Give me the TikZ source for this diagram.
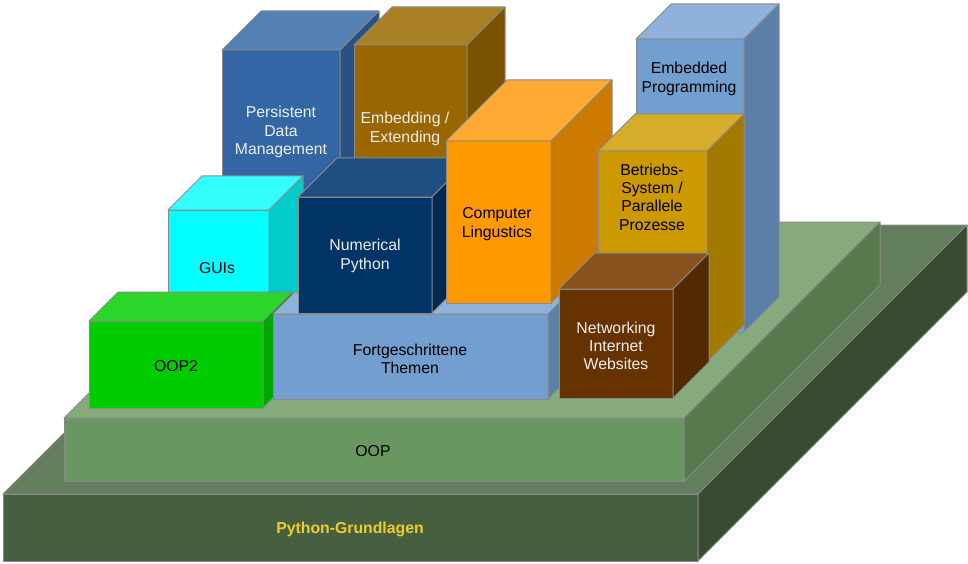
\documentclass[tikz,border=0pt]{standalone}
\usepackage{fontspec}
\setmainfont{Liberation Sans}

% colours of the blocks: F = front, T = top, S = side
\definecolor{edgegray}{HTML}{8A8A8A}
\definecolor{grundF}{HTML}{465F40}
\definecolor{grundT}{HTML}{637E5C}
\definecolor{grundS}{HTML}{384C32}
\definecolor{oopF}{HTML}{6A9662}
\definecolor{oopT}{HTML}{85AA7B}
\definecolor{oopS}{HTML}{567A4B}
\definecolor{ooptwoF}{HTML}{00CC00}
\definecolor{ooptwoT}{HTML}{2AD62A}
\definecolor{ooptwoS}{HTML}{00A800}
\definecolor{fortF}{HTML}{729FCF}
\definecolor{fortT}{HTML}{8DB2DC}
\definecolor{fortS}{HTML}{5C80A7}
\definecolor{guisF}{HTML}{00FFFF}
\definecolor{guisT}{HTML}{33FFFF}
\definecolor{guisS}{HTML}{00CCCC}
\definecolor{numpyF}{HTML}{003366}
\definecolor{numpyT}{HTML}{1E4F83}
\definecolor{numpyS}{HTML}{002952}
\definecolor{compF}{HTML}{FF9900}
\definecolor{compT}{HTML}{FFAA33}
\definecolor{compS}{HTML}{CC7A00}
\definecolor{persistF}{HTML}{3465A4}
\definecolor{persistT}{HTML}{5580B6}
\definecolor{persistS}{HTML}{2A5184}
\definecolor{embedF}{HTML}{996600}
\definecolor{embedT}{HTML}{AA8025}
\definecolor{embedS}{HTML}{7A5200}
\definecolor{embprogF}{HTML}{729FCF}
\definecolor{embprogT}{HTML}{8DB1DB}
\definecolor{embprogS}{HTML}{5B7FA6}
\definecolor{betriebF}{HTML}{CC9900}
\definecolor{betriebT}{HTML}{D6AD2B}
\definecolor{betriebS}{HTML}{A37A00}
\definecolor{netF}{HTML}{663300}
\definecolor{netT}{HTML}{86521D}
\definecolor{netS}{HTML}{522900}
\definecolor{hell}{HTML}{EEEEEE}
\definecolor{gelb}{HTML}{F2CC2A}

\tikzset{
  kante/.style={draw=edgegray, line width=1pt, line join=round},
  vorn/.style={kante, fill=#1F},
  oben/.style={kante, fill=#1T},
  seite/.style={kante, fill=#1S},
  beschriftung/.style={align=center, inner sep=0pt,
    font=\fontsize{15.8}{18.3}\selectfont},
}

% block: left, top, right, bottom, depth, colour
\newcommand{\quader}[6]{%
  \path[vorn=#6] (#1,#2) rectangle (#3,#4);
  \path[oben=#6] (#1,#2) -- ++(#5,-#5) -- ++(#3-#1,0) -- (#3,#2) -- cycle;
  \path[seite=#6] (#3,#2) -- ++(#5,-#5) -- ++(0,#4-#2) -- (#3,#4) -- cycle;
}

\begin{document}
\begin{tikzpicture}[x=1pt, y=-1pt]
            \useasboundingbox (0,0) rectangle (968,564);

            % Base layers
            \quader{3}{494}{698}{561}{269}{grund}
            \quader{64}{418}{684}{481}{196}{oop}

            % Back row
            \quader{636}{39}{744}{332}{35}{embprog}
            \quader{222}{50}{340}{240}{39}{persist}
            \quader{354}{45}{467}{200}{38}{embed}

            % Middle row
            \quader{168}{210}{269}{325}{34}{guis}
            \quader{89}{321}{263}{408}{29}{ooptwo}
            \quader{273}{314}{548}{399}{22}{fort}
            \quader{298}{197}{432}{313}{39}{numpy}
            \quader{446}{141}{551}{303}{61}{comp}
            \quader{598}{151}{707}{362}{37}{betrieb}

            % Front block
            \quader{559}{289}{673}{398}{36}{net}

            % Labels
            \node[beschriftung, text=gelb, font=\fontsize{15.8}{18.3}\selectfont\bfseries] (grund) at (350,529) {Python-Grundlagen};
            \node[beschriftung] (oop) at (373,451) {OOP};
            \node[beschriftung] (ooptwo) at (176,366) {OOP2};
            \node[beschriftung] (fort) at (410,359) {Fortgeschrittene\\Themen};
            \node[beschriftung, text=hell] (net) at (616,346) {Networking\\Internet\\Websites};
            \node[beschriftung] (guis) at (217,268) {GUIs};
            \node[beschriftung, text=hell] (numpy) at (365,256) {Numerical\\Python};
            \node[beschriftung] (comp) at (497,224) {Computer\\Lingustics};
            \node[beschriftung] (betrieb) at (652,197) {Betriebs-\\System /\\Parallele\\Prozesse};
            \node[beschriftung] (embprog) at (689,79) {Embedded\\Programming};
            \node[beschriftung, text=hell] (persist) at (281,132) {Persistent\\Data\\Management};
            \node[beschriftung, text=hell] (embed) at (405,129) {Embedding /\\Extending};
\end{tikzpicture}
\end{document}
